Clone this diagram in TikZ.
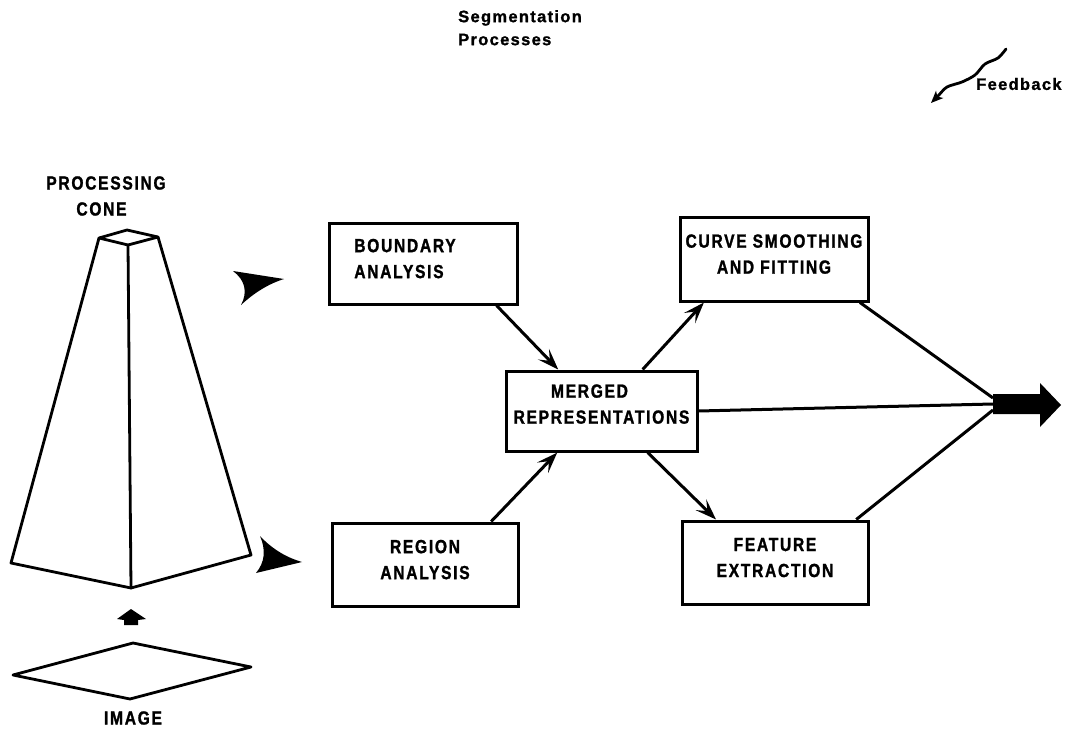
\documentclass[tikz,border=0pt]{standalone}
\usepackage{fontspec}
\setmainfont{Liberation Sans}
\newfontfamily\capsfont[FakeStretch=0.82,LetterSpace=9,FakeBold=1.3]{Liberation Sans}
\newfontfamily\headfont[LetterSpace=8,FakeBold=1.2]{Liberation Sans}
\usetikzlibrary{arrows.meta,calc}
\begin{document}
\begin{tikzpicture}[x=1pt,y=-1pt,
  capsfnt/.style={font=\capsfont\bfseries\fontsize{19}{26}\selectfont},
  lbl/.style={capsfnt, align=center, inner sep=0pt},
  procbox/.style={draw, line width=3pt, rectangle, inner sep=0pt, text depth=10pt, capsfnt, align=center},
  flow/.style={line width=3pt, -{Stealth[length=21pt,width=15pt,inset=9pt]}},
  plainline/.style={line width=3pt},
  edgeline/.style={line width=2.8pt, line join=round, line cap=round}]

\useasboundingbox (0,0) rectangle (1067,730);

% title and legend
\node[font=\headfont\bfseries\fontsize{16.5}{23}\selectfont, align=left, anchor=north west, inner sep=0pt] (title) at (458,10) {Segmentation\\Processes};
\node[font=\headfont\bfseries\fontsize{16.5}{20}\selectfont, anchor=west, inner sep=0pt] (fb) at (976,84) {Feedback};
\draw[line width=2.8pt, line cap=round, -{Stealth[length=12pt,width=10pt,inset=3pt]}]
  plot[smooth] coordinates {(1006,49) (998,58) (985,64) (975,75) (962,82) (947,87) (938,96) (931,103)};

% processing cone
\node[lbl] (conelbl) at (106,196) {PROCESSING\\CONE\hspace*{9pt}};
\coordinate (tL) at (99,238);
\coordinate (tB) at (127,230);
\coordinate (tR) at (158,237);
\coordinate (tF) at (128,245);
\coordinate (bL) at (11,563);
\coordinate (bF) at (131,588);
\coordinate (bR) at (251,555);
\draw[edgeline] (tL) -- (tB) -- (tR) -- (tF) -- cycle;
\draw[edgeline] (tL) -- (bL) -- (bF) -- (bR) -- (tR);
\draw[edgeline] (tF) -- (bF);

% small up arrow and image plane
\fill (131,609) -- (146,619) -- (138,620) -- (138,625) -- (124,625) -- (124,620) -- (117,619) -- cycle;
\draw[edgeline] (133,643) -- (251,667) -- (130,699) -- (13,675) -- cycle;
\node[lbl] (imglbl) at (133,718) {IMAGE};

% darts
\fill (284,279) -- (233,271)
  .. controls (245,280) and (248,292) .. (241,305)
  .. controls (254,293) and (268,284) .. (284,279) -- cycle;
\fill (302,562) .. controls (288,558) and (273,550) .. (260,536)
  .. controls (266,550) and (265,562) .. (256,573)
  -- (302,562) -- cycle;

% boxes
\node[procbox, minimum width=188pt, minimum height=81pt, align=left] (boundary) at (423,263.5) {BOUNDARY\hspace*{36pt}\\ANALYSIS};
\node[procbox, minimum width=186pt, minimum height=83pt] (region) at (425,564.5) {REGION\\ANALYSIS};
\node[procbox, minimum width=191pt, minimum height=80pt, text depth=14pt] (merged) at (601.5,411) {MERGED\hspace*{24pt}\\REPRESENTATIONS};
\node[procbox, minimum width=188pt, minimum height=84pt] (curve) at (774,259) {CURVE SMOOTHING\\AND FITTING};
\node[procbox, minimum width=186pt, minimum height=83pt] (feature) at (775,562.5) {FEATURE\\EXTRACTION};

% result arrow
\coordinate (result) at (993,404);
\fill (993,394) -- (1040,394) -- (1040,383) -- (1061,405) -- (1040,427) -- (1040,414) -- (993,414) -- cycle;

% connectors
\draw[flow] ($(boundary.south west)!0.885!(boundary.south east)$) -- ($(merged.north west)!0.277!(merged.north east)$);
\draw[flow] ($(region.north west)!0.85!(region.north east)$) -- ($(merged.south west)!0.272!(merged.south east)$);
\draw[flow] ($(merged.north west)!0.712!(merged.north east)$) -- ($(curve.south west)!0.133!(curve.south east)$);
\draw[flow] ($(merged.south west)!0.738!(merged.south east)$) -- ($(feature.north west)!0.188!(feature.north east)$);
\draw[plainline] ($(curve.south west)!0.95!(curve.south east)$) -- ($(result)+(0,-6)$);
\draw[plainline] (merged.east) -- (result);
\draw[plainline] ($(feature.north west)!0.93!(feature.north east)$) -- ($(result)+(0,6)$);
\end{tikzpicture}
\end{document}
